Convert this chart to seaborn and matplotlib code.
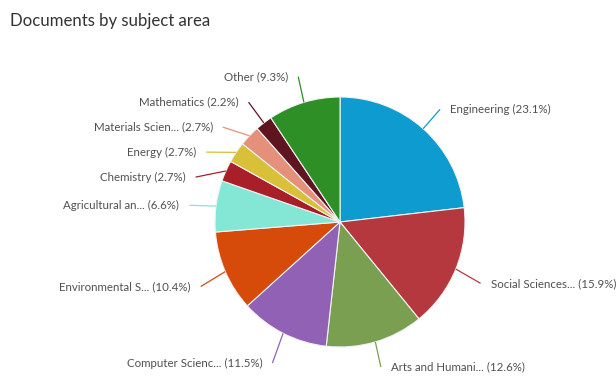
import numpy as np
import matplotlib
matplotlib.use("Agg")
import matplotlib.pyplot as plt
import seaborn as sns

sns.set_theme(style="white")
plt.rcParams['font.family'] = ['Lato', 'DejaVu Sans']

categories = ["Engineering", "Social Sciences...", "Arts and Humani...", "Computer Scienc...",
              "Environmental S...", "Agricultural an...", "Chemistry", "Energy",
              "Materials Scien...", "Mathematics", "Other"]
percentages = [23.1, 15.9, 12.6, 11.5, 10.4, 6.6, 2.7, 2.7, 2.7, 2.2, 9.3]
colors = ["#0e9bcf", "#b5383f", "#7a9f50", "#9161b5", "#d64b0a", "#84e6d5",
          "#a81f2a", "#d8c038", "#e5907a", "#5e1520", "#2d8f25"]

W, H = 616, 377
CX, CY, R = 340, 222, 125  # pixel geometry of the pie

fig = plt.figure(figsize=(W / 100, H / 100), dpi=100)
ax = fig.add_axes([0, 0, 1, 1])

wedges, _ = ax.pie(percentages, colors=colors, startangle=90, counterclock=False,
                   radius=1.0, center=(0, 0), frame=True,
                   wedgeprops=dict(edgecolor="#f2f2f2", linewidth=0.8))
ax.set_aspect('auto')
ax.set_xlim(-CX / R, (W - CX) / R)
ax.set_ylim(-(H - CY) / R, CY / R)
ax.axis('off')

# label placement (Highcharts-like): distance 30px, min vertical gap 25px
total = sum(percentages)
cum = np.cumsum([0] + percentages)
rl = 1 + 30 / R
gap = 25 / R
shift = -3 / R
ymin = -(H - 10 - CY) / R  # keep labels inside the canvas
labels = []
for i, (c, p) in enumerate(zip(categories, percentages)):
    mid = (cum[i] + p / 2) / total * 2 * np.pi  # clockwise from top
    sx, sy = np.sin(mid), np.cos(mid)
    labels.append(dict(i=i, side=1 if sx >= 0 else -1, sx=sx, sy=sy,
                       y=rl * sy, text=f"{c} ({p}%)"))

for side in (1, -1):
    grp = sorted([l for l in labels if l['side'] == side], key=lambda l: -l['y'])
    for k in range(1, len(grp)):
        if grp[k - 1]['y'] - grp[k]['y'] < gap:
            grp[k]['y'] = grp[k - 1]['y'] - gap

for l in labels:
    y = l['y']
    dx = np.sqrt(max(rl ** 2 - y ** 2, 0))
    x = l['side'] * dx
    y = max(y + shift, ymin)
    col = colors[l['i']]
    x0, y0 = l['sx'] * 1.0, l['sy'] * 1.0
    ax.plot([x0, x - l['side'] * 3 / R], [y0, y], color=col, lw=0.9, solid_capstyle='butt')
    ax.text(x + l['side'] * 7 / R, y, l['text'], ha='left' if l['side'] > 0 else 'right',
            va='center', fontsize=8.3, color="#505050")

fig.text(10 / W, 1 - 21 / H, "Documents by subject area", fontsize=12.1, color="#333333",
         ha='left', va='center')

fig.savefig("out.png", dpi=100)
